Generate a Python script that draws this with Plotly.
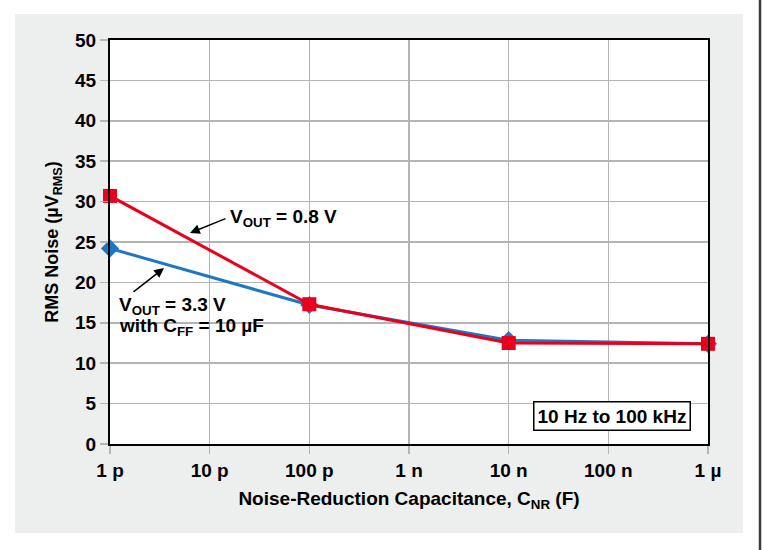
import plotly.graph_objects as go

# Data
cap_values = [1e-12, 1e-10, 1e-8, 1e-6]
noise_3v3 = [24.2, 17.2, 12.85, 12.4]
noise_0v8 = [30.7, 17.3, 12.5, 12.4]
x_tick_vals = [1e-12, 1e-11, 1e-10, 1e-9, 1e-8, 1e-7, 1e-6]
x_tick_text = ["1 p", "10 p", "100 p", "1 n", "10 n", "100 n", "1 µ"]
y_tick_vals = [0, 5, 10, 15, 20, 25, 30, 35, 40, 45, 50]

FONT = "Liberation Sans"
W, H = 762, 550
PX0, PX1, PY0, PY1 = 110, 708, 40, 444
L, R, T, B = PX0, W - PX1, PY0, H - PY1

def px(x):
    return (x - PX0) / (PX1 - PX0)

def py(y):
    return (PY1 - y) / (PY1 - PY0)

fig = go.Figure()
fig.add_trace(go.Scatter(
    x=cap_values, y=noise_3v3, mode="lines+markers", cliponaxis=False,
    line=dict(color="#1f77c4", width=3),
    marker=dict(symbol="diamond", size=14, color="#1f77c4"),
    name="VOUT = 3.3 V"))
fig.add_trace(go.Scatter(
    x=cap_values, y=noise_0v8, mode="lines+markers", cliponaxis=False,
    line=dict(color="#e8001c", width=3),
    marker=dict(symbol="square", size=14, color="#e8001c"),
    name="VOUT = 0.8 V"))

tickfont = dict(family=FONT, size=19, color="black")
fig.update_xaxes(
    type="log", range=[-12.00001, -5.99999], tickmode="array",
    tickvals=x_tick_vals, ticktext=["<b>%s</b>" % t for t in x_tick_text],
    showgrid=True, gridcolor="#b4b4b4", gridwidth=1.5,
    showline=True, linecolor="black", linewidth=2, mirror=True,
    ticks="outside", ticklen=8, tickcolor="#b4b4b4", tickwidth=1.5,
    tickfont=tickfont, zeroline=False,
    title=dict(text="<b>Noise-Reduction Capacitance, C<sub>NR</sub> (F)</b>",
               font=dict(family=FONT, size=19, color="black"),
               standoff=12))
fig.update_yaxes(
    range=[0, 50], tickmode="array", tickvals=y_tick_vals,
    ticktext=["<b>%d</b>" % v for v in y_tick_vals],
    showgrid=True, gridcolor="#b4b4b4", gridwidth=1.5,
    showline=True, linecolor="black", linewidth=2, mirror=True,
    ticks="outside", ticklen=8, tickcolor="#b4b4b4", tickwidth=1.5,
    tickfont=tickfont, zeroline=False,
    title=dict(text="<b>RMS Noise (µV<sub>RMS</sub>)</b>",
               font=dict(family=FONT, size=18, color="black"),
               standoff=12))

shapes = [
    dict(type="rect", xref="paper", yref="paper", layer="below",
         x0=px(15), x1=px(743), y0=py(533), y1=py(14),
         fillcolor="#edeeee", line=dict(width=0)),
    dict(type="rect", xref="x domain", yref="y domain", layer="below",
         x0=0, x1=1, y0=0, y1=1, fillcolor="white", line=dict(width=0)),
    dict(type="line", xref="paper", yref="paper",
         x0=px(760), x1=px(760), y0=py(550), y1=py(0),
         line=dict(color="#3a3a3a", width=2.5)),
]

afont = dict(family=FONT, size=19, color="black")
annotations = [
    # arrows
    dict(xref="paper", yref="paper", x=px(190), y=py(233), ax=37, ay=-15,
         text="", showarrow=True, arrowhead=2, arrowsize=1.3, arrowwidth=1.5,
         arrowcolor="black"),
    dict(xref="paper", yref="paper", x=px(164), y=py(268), ax=-32, ay=25,
         text="", showarrow=True, arrowhead=2, arrowsize=1.3, arrowwidth=1.5,
         arrowcolor="black"),
    dict(xref="paper", yref="paper", x=px(228), y=py(218), xanchor="left",
         yanchor="middle", text="<b>V<sub>OUT</sub> = 0.8 V</b>", showarrow=False,
         font=afont),
    dict(xref="paper", yref="paper", x=px(117), y=py(306), xanchor="left",
         yanchor="middle", text="<b>V<sub>OUT</sub> = 3.3 V</b>", showarrow=False,
         font=afont),
    dict(xref="paper", yref="paper", x=px(117), y=py(327), xanchor="left",
         yanchor="middle", text="<b>with C<sub>FF</sub> = 10 µF</b>",
         showarrow=False, font=afont),
    dict(xref="paper", yref="paper", x=px(612), y=py(416), xanchor="center",
         yanchor="middle", text="<b>10 Hz to 100 kHz</b>", showarrow=False,
         font=afont, bgcolor="white", bordercolor="black", borderwidth=1.5,
         borderpad=3),
]

fig.update_layout(
    width=W, height=H, margin=dict(l=L, r=R, t=T, b=B),
    paper_bgcolor="white", plot_bgcolor="white",
    showlegend=False, shapes=shapes, annotations=annotations,
    font=dict(family=FONT, color="black"),
)

fig.write_html(
    "out.html",
    config={"displayModeBar": False, "staticPlot": True},
    post_script="document.body.style.margin='0';document.body.style.overflow='hidden';",
)
